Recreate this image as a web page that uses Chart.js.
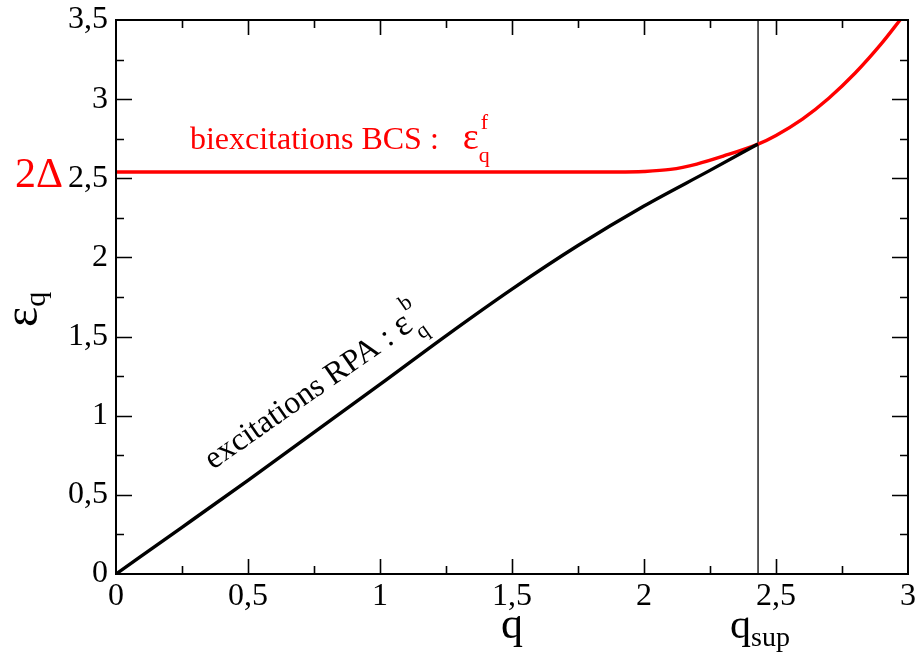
<!DOCTYPE html>
<html>
<head>
<meta charset="utf-8">
<script src="https://cdn.jsdelivr.net/npm/chart.js@4.4.1/dist/chart.umd.min.js"></script>
<style>
html,body{margin:0;padding:0;background:#fff;}
#wrap{width:917px;height:661px;}
</style>
</head>
<body>
<div id="wrap"><canvas id="c" width="917" height="661"></canvas></div>
<script>
// ---- data ----
const qBlack = [0, 0.25, 0.5, 0.75, 1.0, 1.25, 1.5, 1.75, 2.0, 2.25, 2.432];
const eBlack = [0, 0.295, 0.592, 0.895, 1.198, 1.505, 1.80, 2.075, 2.325, 2.55, 2.716];
const qRed = [0, 1.9, 2.0, 2.1, 2.2, 2.3, 2.432, 2.5, 2.6, 2.7, 2.8, 2.9, 2.97];
const eRed = [2.54, 2.54, 2.543, 2.556, 2.59, 2.64, 2.716, 2.771, 2.874, 3.006, 3.165, 3.352, 3.5];
const qSup = 2.432;
const gap2Delta = 2.54;
const xTicks = [0, 0.5, 1, 1.5, 2, 2.5, 3];
const yTicks = [0, 0.5, 1, 1.5, 2, 2.5, 3, 3.5];
const xMinor = [0.25, 0.75, 1.25, 1.75, 2.25, 2.75];
const yMinor = [0.25, 0.75, 1.25, 1.75, 2.25, 2.75, 3.25];

const SERIF = "'Liberation Serif','DejaVu Serif',serif";
const toPts = (xs, ys) => xs.map((x, i) => ({x: x, y: ys[i]}));
const fmt = v => String(v).replace('.', ',');

// rich text helper: segments drawn from current origin along baseline
function rich(ctx, segs, color) {
  ctx.fillStyle = color;
  ctx.textBaseline = 'alphabetic';
  ctx.textAlign = 'left';
  let x = 0;
  segs.forEach(s => {
    if (s.gap) { x += s.gap; return; }
    if (s.stack) {
      const a = s.stack[0], b = s.stack[1];
      ctx.font = a.size + 'px ' + SERIF;
      const wa = ctx.measureText(a.t).width + (a.dx || 0);
      ctx.fillText(a.t, x + (a.dx || 0), a.dy);
      ctx.font = b.size + 'px ' + SERIF;
      const wb = ctx.measureText(b.t).width + (b.dx || 0);
      ctx.fillText(b.t, x + (b.dx || 0), b.dy);
      x += Math.max(wa, wb);
    } else {
      ctx.font = s.size + 'px ' + SERIF;
      ctx.fillText(s.t, x, s.dy || 0);
      x += ctx.measureText(s.t).width;
    }
  });
}

const decor = {
  id: 'decor',
  afterDatasetsDraw(chart) {
    const ctx = chart.ctx;
    const a = chart.chartArea;
    const xs = chart.scales.x, ys = chart.scales.y;
    ctx.save();
    // frame
    ctx.strokeStyle = '#000';
    ctx.lineWidth = 2;
    ctx.strokeRect(a.left, a.top, a.right - a.left, a.bottom - a.top);
    // ticks on all four sides, pointing inward
    ctx.lineWidth = 1.6;
    ctx.beginPath();
    const tk = (vals, len) => {
      vals.forEach(v => {
        const px = Math.round(xs.getPixelForValue(v)) + 0.5;
        ctx.moveTo(px, a.bottom); ctx.lineTo(px, a.bottom - len);
        ctx.moveTo(px, a.top); ctx.lineTo(px, a.top + len);
      });
    };
    const tky = (vals, len) => {
      vals.forEach(v => {
        const py = Math.round(ys.getPixelForValue(v)) + 0.5;
        ctx.moveTo(a.left, py); ctx.lineTo(a.left + len, py);
        ctx.moveTo(a.right, py); ctx.lineTo(a.right - len, py);
      });
    };
    tk(xTicks.slice(1, -1), 15); tk(xMinor, 8);
    tky(yTicks.slice(1, -1), 16); tky(yMinor, 8);
    ctx.stroke();

    // 2Δ label
    ctx.fillStyle = '#ff0000';
    ctx.font = '42px ' + SERIF;
    ctx.textAlign = 'right';
    ctx.textBaseline = 'alphabetic';
    ctx.fillText('2Δ', 63, ys.getPixelForValue(gap2Delta) + 15);

    // red annotation
    ctx.save();
    ctx.translate(xs.getPixelForValue(0.28), ys.getPixelForValue(2.685));
    rich(ctx, [
      {t: 'biexcitations BCS :', size: 32},
      {gap: 24},
      {t: 'ε', size: 38},
      {stack: [{t: 'f', size: 22, dy: -20, dx: 2}, {t: 'q', size: 22, dy: 13, dx: 0}]}
    ], '#ff0000');
    ctx.restore();

    // black rotated annotation
    ctx.save();
    ctx.translate(xs.getPixelForValue(0.367), ys.getPixelForValue(0.657));
    ctx.rotate(-35 * Math.PI / 180);
    rich(ctx, [
      {t: 'excitations RPA : ', size: 32},
      {t: 'ε', size: 36},
      {stack: [{t: 'b', size: 22, dy: -20, dx: 2}, {t: 'q', size: 22, dy: 13, dx: 0}]}
    ], '#000000');
    ctx.restore();

    // y title ε_q rotated
    ctx.save();
    ctx.translate(37, 327);
    ctx.rotate(-Math.PI / 2);
    rich(ctx, [
      {t: 'ε', size: 48},
      {t: 'q', size: 30, dy: 8}
    ], '#000000');
    ctx.restore();

    // x title q
    ctx.fillStyle = '#000';
    ctx.font = '44px ' + SERIF;
    ctx.textAlign = 'center';
    ctx.fillText('q', xs.getPixelForValue(1.5), 638);

    // q_sup
    ctx.save();
    ctx.translate(xs.getPixelForValue(qSup) - 28, 638);
    rich(ctx, [
      {t: 'q', size: 42},
      {t: 'sup', size: 28, dy: 8}
    ], '#000000');
    ctx.restore();

    ctx.restore();
  }
};

new Chart(document.getElementById('c'), {
  type: 'line',
  data: {
    datasets: [
      {
        label: 'RPA',
        data: toPts(qBlack, eBlack),
        borderColor: '#000000',
        borderWidth: 3.4,
        pointRadius: 0,
        cubicInterpolationMode: 'monotone',
        fill: false
      },
      {
        label: 'BCS',
        data: toPts(qRed, eRed),
        borderColor: '#ff0000',
        borderWidth: 3.4,
        pointRadius: 0,
        cubicInterpolationMode: 'monotone',
        fill: false
      },
      {
        label: 'qsup',
        data: [{x: qSup, y: 0}, {x: qSup, y: 3.5}],
        borderColor: '#000000',
        borderWidth: 1.3,
        pointRadius: 0,
        fill: false
      }
    ]
  },
  options: {
    responsive: false,
    animation: false,
    devicePixelRatio: 1,
    layout: {padding: {top: 20, right: 9, left: 0, bottom: 0}},
    plugins: {legend: {display: false}, tooltip: {enabled: false}},
    scales: {
      x: {
        type: 'linear', min: 0, max: 3,
        afterFit: s => { s.height = 87; s.paddingLeft = 0; s.paddingRight = 0; },
        afterBuildTicks: s => { s.ticks = xTicks.map(v => ({value: v})); },
        grid: {display: false, drawTicks: false},
        border: {display: false},
        ticks: {
          color: '#000', padding: 3,
          font: {family: SERIF, size: 32},
          maxRotation: 0, autoSkip: false,
          callback: v => fmt(v)
        }
      },
      y: {
        type: 'linear', min: 0, max: 3.5,
        afterFit: s => { s.width = 116; s.paddingTop = 0; s.paddingBottom = 0; },
        afterBuildTicks: s => { s.ticks = yTicks.map(v => ({value: v})); },
        grid: {display: false, drawTicks: false},
        border: {display: false},
        ticks: {
          color: '#000', padding: 8,
          font: {family: SERIF, size: 32},
          autoSkip: false,
          callback: v => fmt(v)
        }
      }
    }
  },
  plugins: [decor]
});
</script>
</body>
</html>
